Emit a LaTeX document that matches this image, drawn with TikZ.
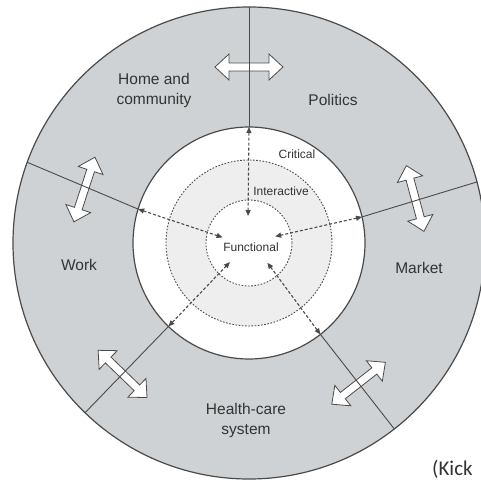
\documentclass[tikz,border=0pt]{standalone}
\usepackage{fontspec}
\setmainfont{Liberation Sans}
\newfontfamily\kickfont{Carlito}
\usetikzlibrary{arrows.meta}
\definecolor{ringgray}{HTML}{CFD2D4}
\definecolor{midgray}{HTML}{EEEEEE}
\definecolor{linegray}{HTML}{4A4A4A}
\definecolor{textgray}{HTML}{333333}
\begin{document}
\begin{tikzpicture}[x=1pt,y=1pt,
  ringnode/.style={circle, inner sep=0pt, outer sep=0pt},
  divider/.style={draw=linegray, line width=0.9pt},
  dotcircle/.style={draw=linegray, line width=0.9pt, dash pattern=on 1.6pt off 1.6pt},
  dasharrow/.style={draw=linegray, line width=1.1pt, dash pattern=on 3pt off 2pt, >={Triangle[length=6pt,width=5pt]}, <->},
  blockarrow/.style={draw=linegray, fill=white, line width=0.8pt, line join=miter},
  outerlabel/.style={font=\fontsize{15.5}{20}\selectfont, text=textgray, align=center},
  innerlabel/.style={font=\fontsize{12}{14}\selectfont, text=textgray},
  dblarrow/.pic={\path[blockarrow] (-34,0) -- (-20,13) -- (-20,4) -- (20,4) -- (20,13) -- (34,0) -- (20,-13) -- (20,-4) -- (-20,-4) -- (-20,-13) -- cycle;}
]
\fill[white] (-249,-238) rectangle (231,243);
\path[use as bounding box] (-249,-238) rectangle (231,243);

% outer ring
\node[ringnode, fill=ringgray, draw=linegray, line width=1.2pt, minimum size=472pt] (outer) at (0,0) {};

% block double arrows
\pic[rotate=0] at (90:176) {dblarrow};
\pic[rotate=105] at (15:172) {dblarrow};
\pic[rotate=72] at (162:173) {dblarrow};
\pic[rotate=136] at (226:182) {dblarrow};
\pic[rotate=38] at (308:178) {dblarrow};

% inner circles
\node[ringnode, fill=white, draw=linegray, line width=1.2pt, minimum size=232pt] (critical) at (0,0) {};
\node[ringnode, fill=midgray, dotcircle, minimum size=166pt] (interactive) at (0,0) {};
\node[ringnode, fill=white, dotcircle, minimum size=86pt] (functional) at (0,0) {};
\node[ringnode, minimum size=54pt] (core) at (0,0) {};

% dividers
\draw[divider] (critical.90) -- (outer.90);
\draw[divider] (critical.13) -- (outer.15);
\draw[divider] (critical.163) -- (outer.160);
\draw[divider] (critical.226) -- (outer.226);
\draw[divider] (critical.308) -- (outer.308);

% dashed arrows
\draw[dasharrow] (critical.90) -- (core.92);
\draw[dasharrow] (critical.13) -- (core.14);
\draw[dasharrow] (critical.163) -- (core.168);
\draw[dasharrow] (critical.226) -- (core.225);
\draw[dasharrow] (critical.308) -- (core.313);

% labels
\node[outerlabel] (home) at (-95,153) {Home and\\community};
\node[outerlabel] (politics) at (84,143) {Politics};
\node[outerlabel] (work) at (-170,-22) {Work};
\node[outerlabel] (market) at (170,-25) {Market};
\node[outerlabel] (health) at (-3,-177) {Health-care\\system};
\node[innerlabel] (crit) at (48,89) {Critical};
\node[innerlabel] (inter) at (32,52) {Interactive};
\node[innerlabel] (func) at (2,-4) {Functional};
\node[anchor=base west, inner sep=0pt, font=\kickfont\fontsize{21}{24}\selectfont, text=textgray] (kick) at (183,-232) {(Kick};
\end{tikzpicture}
\end{document}
